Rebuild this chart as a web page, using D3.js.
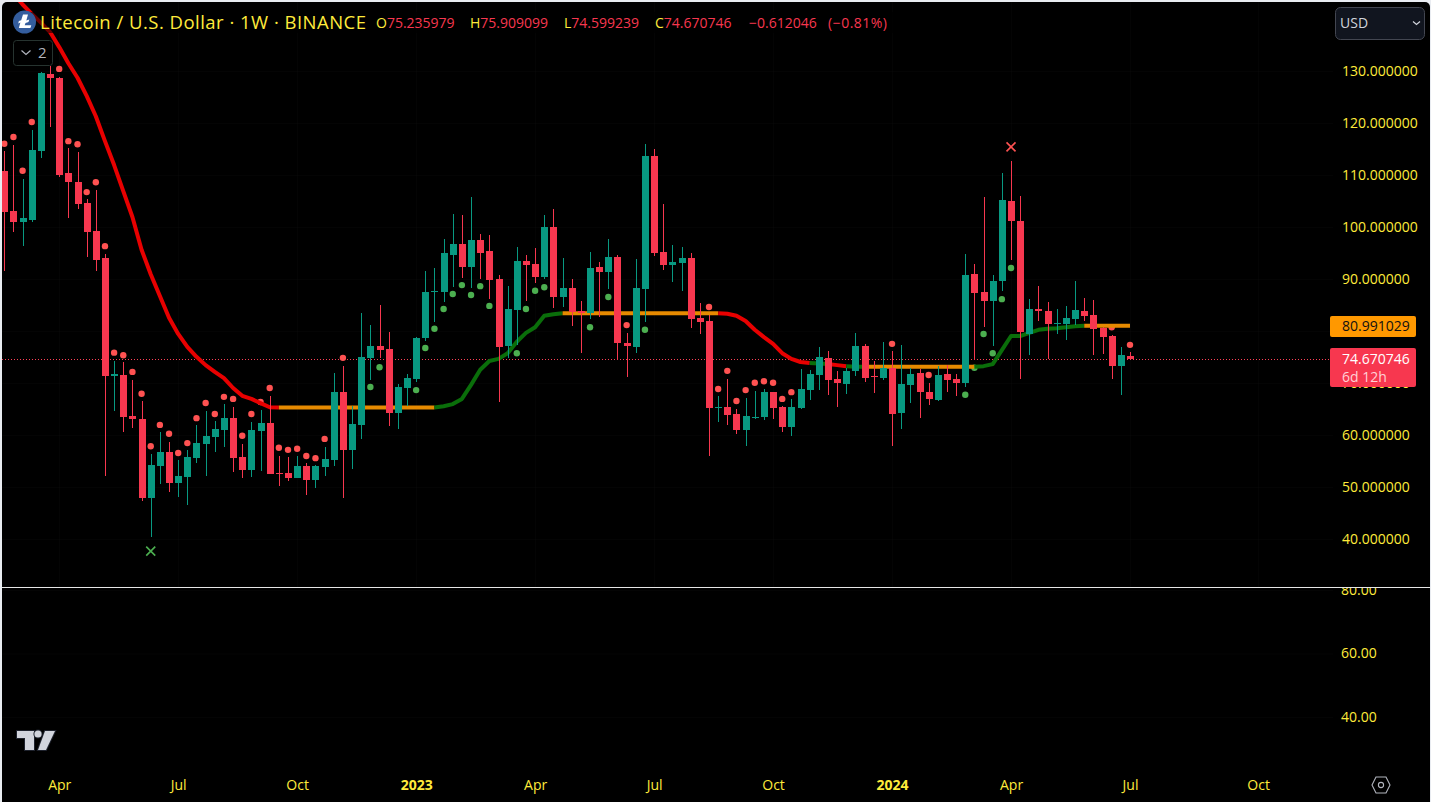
<!DOCTYPE html>
<html><head><meta charset="utf-8">
<script src="https://cdn.jsdelivr.net/npm/d3@7"></script>
<style>
html,body{margin:0;padding:0;background:#e9ecf1;overflow:hidden}
svg{display:block}
text{font-family:"Open Sans","Noto Sans",sans-serif}
</style></head><body><div id="chart"></div>
<script>
const opens=[110.8,103.1,100.9,101.3,114.6,129.4,128.65,110.4,108.6,104.6,
99.2,94.0,71.4,71.5,63.6,63.0,47.8,54.0,56.7,50.7,
51.9,55.5,58.2,59.6,60.9,63.2,55.7,53.2,60.7,62.3,
52.7,52.7,51.7,54.0,51.3,53.8,55.2,68.2,57.1,61.9,
74.8,77.1,76.5,64.2,69.0,70.7,78.6,87.5,87.5,94.6,
96.7,92.3,97.5,95.4,90.0,77.1,84.0,93.4,92.9,90.4,
100.0,86.5,88.2,83.8,83.4,92.3,91.3,94.2,77.7,76.9,
88.0,113.6,95.2,92.7,93.1,94.0,82.5,81.9,65.2,65.4,
64.0,60.9,63.4,63.4,68.2,65.4,61.5,65.2,68.6,71.5,
74.8,70.7,69.8,72.3,77.1,71.3,70.9,72.9,64.2,69.6,
71.9,68.2,66.7,71.7,70.7,70.0,90.9,87.5,85.7,89.6,
105.0,101.2,79.4,84.2,83.8,81.3,81.3,82.3,83.8,83.0,
80.5,79.0,73.2,75.236];
const highs=[114.6,115.8,109.2,118.6,129.8,130.96,128.84,115.2,114.4,105.4,
107.1,94.8,74.2,74.0,70.5,66.5,56.3,60.5,58.6,55.1,
57.1,61.9,64.6,62.7,65.9,65.3,58.2,62.5,64.8,67.5,
55.9,55.7,55.9,54.6,54.2,57.7,71.9,73.2,65.5,83.4,
81.1,85.0,79.8,69.8,71.7,78.8,91.5,92.1,97.7,102.5,
102.3,105.8,98.6,98.4,90.7,88.6,96.1,94.6,95.9,102.3,
103.4,94.0,90.0,85.7,95.2,93.2,97.7,94.6,79.6,93.8,
115.95,115.0,104.4,96.5,96.1,95.0,85.4,83.0,67.5,70.7,
65.0,67.1,68.4,68.8,68.3,65.5,66.9,72.7,72.5,76.9,
76.1,72.3,72.9,79.6,77.5,74.2,77.9,76.1,77.3,72.9,
72.7,70.0,73.2,73.4,71.7,94.8,92.9,105.8,90.7,110.4,
112.7,105.9,86.1,88.6,85.5,84.2,84.8,89.6,86.3,85.9,
80.7,79.2,76.9,75.909];
const lows=[91.5,99.0,96.3,100.9,113.3,119.2,109.6,101.7,103.4,94.2,
91.5,52.07,64.6,60.5,61.3,47.3,40.3,50.5,49.0,48.0,
46.5,54.6,52.1,56.7,57.7,52.8,51.7,51.9,53.0,52.5,
50.1,51.1,51.7,48.4,49.8,52.1,54.0,47.8,53.4,59.2,
70.5,74.8,61.7,61.1,65.5,70.2,78.0,81.7,85.6,88.4,
90.2,88.3,90.0,86.1,66.3,74.8,77.3,85.7,89.2,90.0,
84.4,84.6,80.9,75.7,82.3,82.7,88.0,74.4,71.1,75.7,
81.7,94.4,91.7,89.4,87.7,80.5,79.4,55.9,62.5,61.9,
60.2,57.9,63.0,62.8,63.0,60.5,59.8,65.0,66.7,68.6,
67.7,65.3,67.8,71.3,70.2,68.0,70.5,57.9,61.1,66.1,
63.2,65.7,66.5,68.2,67.5,69.2,74.4,80.7,77.1,87.7,
93.6,70.7,75.3,81.9,74.6,79.4,78.2,81.1,81.9,75.3,
75.5,70.7,67.7,74.599];
const closes=[102.9,100.9,101.7,114.8,129.6,128.65,110.0,108.6,104.4,99.0,
93.6,71.3,71.6,63.4,63.0,47.8,54.2,56.7,50.7,52.1,
55.7,58.4,59.8,61.1,63.2,55.5,53.2,60.9,62.3,52.5,
52.4,51.7,54.0,51.3,54.0,55.3,68.2,57.1,62.1,75.0,
77.1,76.3,64.2,69.2,70.9,78.6,87.5,87.7,95.0,96.7,
92.3,97.5,95.0,89.8,76.9,84.2,93.4,92.7,90.4,100.0,
86.5,88.2,83.6,83.4,92.1,91.3,94.2,77.7,77.1,88.2,
113.6,95.0,92.7,93.2,94.0,82.3,81.7,65.2,65.3,63.8,
60.9,63.6,63.5,68.2,65.2,61.5,65.4,68.8,71.7,75.0,
70.5,70.0,72.3,77.1,70.9,71.2,72.9,64.0,69.8,71.7,
68.2,66.9,71.5,70.5,70.0,90.7,87.3,85.7,89.6,105.2,
101.2,79.8,84.2,83.8,81.3,81.5,82.5,84.0,82.9,80.3,
78.8,73.2,75.3,74.671];

const redDotBars=[0,1,2,3,6,7,8,9,10,11,12,13,14,15,16,17,18,19,20,21,22,23,24,25,26,27,28,29,30,31,32,33,34,35,37,68,77,78,79,80,81,82,83,84,85,86,97,101,121,123];
const redDotPrices=[116.0,117.3,110.8,120.2,130.4,116.5,115.9,106.7,108.6,96.3,75.8,75.3,72.1,67.9,57.8,61.9,60.2,56.5,58.4,63.2,66.1,64.0,67.3,66.9,59.8,64.0,66.3,69.0,57.5,57.1,57.3,55.9,55.5,59.2,74.8,81.1,84.6,68.8,72.3,66.5,68.6,70.0,70.3,70.0,66.9,68.2,77.5,71.5,80.7,77.3];
const greenDotBars=[40,41,45,46,47,48,49,50,51,52,53,56,57,58,59,64,66,70,105,106,107,108,109,110];
const greenDotPrices=[69.2,73.0,68.6,76.7,80.4,84.2,87.1,88.8,86.9,88.6,84.8,75.7,84.2,87.7,88.4,80.7,86.5,80.2,67.7,72.9,79.4,75.7,86.1,92.1];

const trendFirstBar=1;
const trendValues=[144.9,142.8,141.0,139.3,137.5,134.6,131.5,128.7,125.2,121.3,116.5,111.9,106.9,101.9,95.6,90.9,86.7,82.5,79.4,76.9,75.0,73.4,72.1,70.9,69.0,67.5,66.9,66.1,65.3,
65.25,65.25,65.25,65.25,65.25,65.25,65.25,65.25,65.25,65.25,65.25,65.25,65.25,65.25,65.25,65.25,65.25,65.25,
65.5,65.9,66.9,69.6,72.5,74.2,74.6,75.7,77.9,79.6,80.7,82.9,83.2,
83.4,83.4,83.4,83.4,83.4,83.4,83.4,83.4,83.4,83.4,83.4,83.4,83.4,83.4,83.4,83.4,83.4,83.4,
83.3,82.9,81.9,80.2,78.8,77.5,75.7,74.6,74.0,73.8,73.7,73.6,73.4,73.2,73.1,
73.1,73.1,73.1,73.1,73.1,73.1,73.1,73.1,73.1,73.1,73.1,73.1,73.1,
73.2,73.6,76.3,79.0,79.0,79.6,80.2,80.4,80.5,80.7,80.9,
80.99,80.99,80.99,80.99,80.99,80.99];
const trendRunStarts=[1,30,47,61,78,88,90,92,94,106,118];
const trendRunStates=['down','flat','up','flat','down','up','down','up','flat','up','flat'];

const crossBars=[16,110];
const crossPrices=[37.6,115.4];
const crossKinds=['up','down'];

const priceTicks=[40,50,60,70,80,90,100,110,120,130];
const lowerTicks=[40,60,80];
const timeTickBars=[6,19,32,45,58,71,84,97,110,123,137];
const timeTickLabels=['Apr','Jul','Oct','2023','Apr','Jul','Oct','2024','Apr','Jul','Oct'];
const lastPrice=74.670746, trendLast=80.991029;
const legendParts=[['O','75.235979',376],['H','75.909099',470],['L','74.599239',564],['C','74.670746',655]];

const YELLOW='#ffeb3b',RED='#f7374f',GREEN='#089981',DOTRED='#ff5252',DOTGREEN='#4caf50';
const trendColor={down:'#e80000',up:'#0a6e0a',flat:'#e68a00'};
const W=1431,H=802;
const svg=d3.select('#chart').append('svg').attr('width',W).attr('height',H);
const defs=svg.append('defs');
defs.append('clipPath').attr('id','pane').append('rect').attr('x',2).attr('y',2).attr('width',1331).attr('height',585);
defs.append('clipPath').attr('id','low').append('rect').attr('x',1333).attr('y',588).attr('width',98).attr('height',214);

svg.append('rect').attr('x',2).attr('y',2).attr('width',1428).attr('height',810).attr('rx',5).attr('fill','#000');

const x=d3.scaleLinear().domain([0,123]).range([4.3,1130]);
const y=d3.scaleLinear().domain([40,130]).range([538.7,71]);
const yLow=d3.scaleLinear().domain([40,80]).range([717,590]);
const px=i=>Math.round(x(i));

// grid
const grid=svg.append('g').attr('stroke','#fff').attr('stroke-opacity',0.014);
grid.selectAll('.h').data(priceTicks).join('line').attr('x1',2).attr('x2',1333).attr('y1',d=>Math.round(y(d))+.5).attr('y2',d=>Math.round(y(d))+.5);
grid.selectAll('.v').data(timeTickBars).join('line').attr('x1',d=>px(d)+.5).attr('x2',d=>px(d)+.5).attr('y1',2).attr('y2',587);
grid.selectAll('.l').data(lowerTicks).join('line').attr('x1',2).attr('x2',1333).attr('y1',d=>yLow(d)+.5).attr('y2',d=>yLow(d)+.5);

const pane=svg.append('g').attr('clip-path','url(#pane)');

// dotted last price line
pane.append('line').attr('x1',2).attr('x2',1333).attr('y1',Math.round(y(lastPrice))+.5).attr('y2',Math.round(y(lastPrice))+.5)
 .attr('stroke','#ff3f55').attr('stroke-dasharray','1 2').attr('shape-rendering','crispEdges');

// stop dots
pane.append('g').selectAll('circle').data(redDotBars).join('circle')
 .attr('cx',d=>x(d)).attr('cy',(d,i)=>y(redDotPrices[i])).attr('r',3.2).attr('fill',DOTRED);
pane.append('g').selectAll('circle').data(greenDotBars).join('circle')
 .attr('cx',d=>x(d)).attr('cy',(d,i)=>y(greenDotPrices[i])).attr('r',3.2).attr('fill',DOTGREEN);

// trend ribbon
const lineGen=d3.line().x(d=>x(d)).y(d=>y(trendValues[d-trendFirstBar])).curve(d3.curveLinear);
const runs=trendRunStarts.map((s,k)=>({s,e:k<trendRunStarts.length-1?trendRunStarts[k+1]:123,st:trendRunStates[k]}));
pane.append('g').selectAll('path').data(runs).join('path')
 .attr('d',r=>lineGen(d3.range(r.s,r.e+1))).attr('fill','none')
 .attr('stroke',r=>trendColor[r.st]).attr('stroke-width',4).attr('stroke-linejoin','round')
 .attr('stroke-linecap','butt');

// candles
const bars=d3.range(opens.length);
const col=i=>closes[i]>=opens[i]?GREEN:RED;
const cg=pane.append('g').attr('shape-rendering','crispEdges');
cg.selectAll('.w').data(bars).join('rect').attr('x',i=>px(i)).attr('width',1)
 .attr('y',i=>Math.round(y(highs[i]))).attr('height',i=>Math.max(1,Math.round(y(lows[i]))-Math.round(y(highs[i]))))
 .attr('fill',col);
cg.selectAll('.b').data(bars).join('rect').attr('x',i=>px(i)-3).attr('width',7)
 .attr('y',i=>Math.round(y(Math.max(opens[i],closes[i]))))
 .attr('height',i=>Math.max(1,Math.round(y(Math.min(opens[i],closes[i])))-Math.round(y(Math.max(opens[i],closes[i])))))
 .attr('fill',col);

// crosses
pane.append('g').selectAll('path').data(crossBars).join('path')
 .attr('transform',(d,i)=>`translate(${x(d)},${y(crossPrices[i])})`)
 .attr('d','M-4.5,-4.5L4.5,4.5M-4.5,4.5L4.5,-4.5')
 .attr('fill','none').attr('stroke-width',1.6)
 .attr('stroke',(d,i)=>crossKinds[i]==='up'?DOTGREEN:'#ff5252');

// price axis
const ax=svg.append('g').attr('transform','translate(1342,0)')
 .call(d3.axisRight(y).tickValues(priceTicks).tickSize(0).tickPadding(0).tickFormat(d=>d.toFixed(6)));
ax.select('.domain').remove();
ax.selectAll('text').attr('fill',YELLOW).attr('font-size',14).style('font-family','"Open Sans"');

const ax2=svg.append('g').attr('clip-path','url(#low)').append('g').attr('transform','translate(1341,0)')
 .call(d3.axisRight(yLow).tickValues(lowerTicks).tickSize(0).tickPadding(0).tickFormat(d=>d.toFixed(2)));
ax2.select('.domain').remove();
ax2.selectAll('text').attr('fill',YELLOW).attr('font-size',14).style('font-family','"Open Sans"');

// pane separator
svg.append('rect').attr('x',2).attr('y',587).attr('width',1428).attr('height',1).attr('fill','#e6e6e6');

// time axis
const tx=d3.scaleLinear().domain(x.domain()).range(x.range());
const tax=svg.append('g').attr('transform','translate(0,780)')
 .call(d3.axisBottom(tx).tickValues(timeTickBars).tickSize(0).tickPadding(0).tickFormat((d,i)=>timeTickLabels[i]));
tax.select('.domain').remove();
tax.selectAll('text').attr('fill',YELLOW).attr('font-size',14).style('font-family','"Open Sans"')
 .attr('font-weight',(d,i)=>/^\d/.test(timeTickLabels[i])?700:400);

// price labels
function tag(yTop,h,fill){svg.append('rect').attr('x',1330).attr('y',yTop).attr('width',86).attr('height',h).attr('rx',2).attr('fill',fill);}
tag(316,21,'#ff9800');
svg.append('text').attr('x',1342).attr('y',y(trendLast)+5.5).attr('font-size',14).attr('fill','#111').text(trendLast.toFixed(6));
tag(348,39,'#f7374f');
svg.append('text').attr('x',1342).attr('y',364).attr('font-size',14).attr('fill','#fff').text(lastPrice.toFixed(6));
svg.append('text').attr('x',1342).attr('y',382).attr('font-size',14).attr('fill','#ffd0d5').text('6d 12h');

// legend
svg.append('rect').attr('x',13).attr('y',12).attr('width',880).attr('height',21).attr('fill','#000').attr('fill-opacity',.55);
svg.append('circle').attr('cx',24.5).attr('cy',22).attr('r',11.5).attr('fill','#345d9d');
svg.append('path').attr('d','M24,15.5h5l-1.7,6 3,-1 -.8,2.4 -3,1 -.8,2.4h6.6l-.9,2.6h-11.6l1.6,-5.3 -2.2,.8 .7,-2.3 2.3,-.8z').attr('fill','#fff').attr('transform','translate(-1,-1)');
svg.append('text').attr('x',40).attr('y',28.5).attr('font-size',18.5).attr('fill',YELLOW)
 .attr('textLength',326).attr('lengthAdjust','spacing').text('Litecoin / U.S. Dollar · 1W · BINANCE');
const lg=svg.append('g').attr('font-size',14);
legendParts.forEach(([k,v,xp])=>{
  const t=lg.append('text').attr('x',xp).attr('y',27.5);
  t.append('tspan').attr('fill',YELLOW).text(k);
  t.append('tspan').attr('fill',RED).text(v);
});
lg.append('text').attr('x',749).attr('y',27.5).attr('fill',RED).text('−0.612046');
lg.append('text').attr('x',828).attr('y',27.5).attr('fill',RED).attr('textLength',59).attr('lengthAdjust','spacing').text('(−0.81%)');

// collapse button
svg.append('rect').attr('x',13.5).attr('y',40.5).attr('width',39).attr('height',25).attr('rx',3).attr('fill','#000').attr('fill-opacity',.6).attr('stroke','#26332f');
svg.append('path').attr('d','M21.5,50.5l4.5,4 4.5,-4').attr('fill','none').attr('stroke','#b2b5be').attr('stroke-width',1.2);
svg.append('text').attr('x',38).attr('y',58).attr('font-size',15).attr('fill','#b2b5be').text('2');

// currency button
svg.append('rect').attr('x',1335.5).attr('y',7.5).attr('width',89).attr('height',32).attr('rx',5).attr('fill','#11151f').attr('stroke','#434651');
svg.append('text').attr('x',1340).attr('y',28).attr('font-size',14).attr('fill','#d1d4dc').text('USD');
svg.append('path').attr('d','M1413,21.5l3.5,3 3.5,-3').attr('fill','none').attr('stroke','#d1d4dc').attr('stroke-width',1.2);

// watermark logo
const wm=svg.append('g').attr('fill','#d1d4dc').attr('stroke','#1e222d').attr('stroke-width',2).attr('paint-order','stroke');
wm.append('path').attr('d','M17,731H34V750H25V738H17Z');
wm.append('circle').attr('cx',38).attr('cy',734).attr('r',3.6);
wm.append('path').attr('d','M45,731H55L46,750H38Z');

// settings icon
svg.append('path').attr('d','M1376,777H1386L1390,785L1386,793H1376L1372,785Z').attr('fill','none').attr('stroke','#b2b5be').attr('stroke-width',1.1);
svg.append('circle').attr('cx',1381).attr('cy',785).attr('r',2.6).attr('fill','none').attr('stroke','#b2b5be').attr('stroke-width',1.1);
</script></body></html>
